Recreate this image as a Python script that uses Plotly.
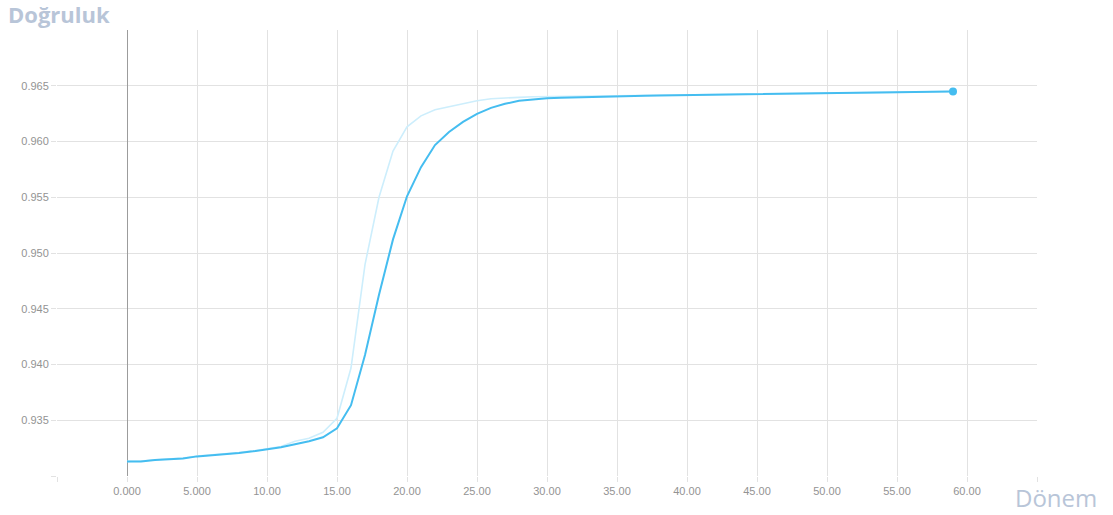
import plotly.graph_objects as go

# epochs 0..59
epochs = list(range(60))

# smoothed accuracy (dark line)
accuracy_smoothed = [
    0.93131, 0.93131, 0.93144, 0.93149, 0.93158, 0.93176, 0.93185, 0.93194, 0.93207, 0.93221,
    0.93239, 0.93257, 0.93284, 0.93311, 0.93347, 0.93428, 0.93635, 0.94086, 0.94626, 0.95122,
    0.95509, 0.95770, 0.95968, 0.96086, 0.96176, 0.96248, 0.96302, 0.96338, 0.96365, 0.96378,
    0.96387, 0.96392, 0.96396, 0.96399, 0.96401, 0.96405, 0.96410, 0.96410, 0.96412, 0.96414,
    0.96415, 0.96417, 0.96419, 0.96421, 0.96423, 0.96424, 0.96425, 0.96426, 0.96428, 0.96430,
    0.96431, 0.96432, 0.96433, 0.96435, 0.96437, 0.96439, 0.96441, 0.96444, 0.96446, 0.96449,
]

# raw accuracy (light line)
accuracy_raw = [
    0.93131, 0.93135, 0.93146, 0.93150, 0.93160, 0.93178, 0.93188, 0.93198, 0.93210, 0.93225,
    0.93245, 0.93264, 0.93311, 0.93338, 0.93392, 0.93518, 0.93968, 0.94896, 0.95500, 0.95914,
    0.96131, 0.96230, 0.96284, 0.96311, 0.96338, 0.96365, 0.96383, 0.96392, 0.96396, 0.96401,
    0.96403, 0.96404, 0.96405, 0.96405, 0.96406, 0.96409, 0.96412, 0.96412, 0.96414, 0.96416,
    0.96417, 0.96419, 0.96421, 0.96423, 0.96425, 0.96426, 0.96427, 0.96428, 0.96430, 0.96432,
    0.96433, 0.96434, 0.96435, 0.96437, 0.96439, 0.96441, 0.96443, 0.96446, 0.96448, 0.96450,
]

x_tickvals = [-5, 0, 5, 10, 15, 20, 25, 30, 35, 40, 45, 50, 55, 60, 65]
x_ticktext = ["", "0.000", "5.000", "10.00", "15.00", "20.00", "25.00", "30.00",
              "35.00", "40.00", "45.00", "50.00", "55.00", "60.00", ""]
y_tickvals = [0.930, 0.935, 0.940, 0.945, 0.950, 0.955, 0.960, 0.965]
y_ticktext = ["", "0.935", "0.940", "0.945", "0.950", "0.955", "0.960", "0.965"]

line_color = "#45bdf0"
raw_color = "#cdeefc"
grid_color = "#e2e2e2"
label_color = "#b8c5d8"

fig = go.Figure()

fig.add_trace(go.Scatter(
    x=epochs, y=accuracy_raw, mode="lines",
    line=dict(color=raw_color, width=1.6),
    hoverinfo="skip",
))

fig.add_trace(go.Scatter(
    x=epochs, y=accuracy_smoothed, mode="lines",
    line=dict(color=line_color, width=2),
))

fig.add_trace(go.Scatter(
    x=[epochs[-1]], y=[accuracy_smoothed[-1]], mode="markers",
    marker=dict(color=line_color, size=8),
))

fig.update_layout(
    width=1113,
    height=515,
    margin=dict(l=57, r=76, t=30, b=39),
    paper_bgcolor="white",
    plot_bgcolor="white",
    showlegend=False,
    font=dict(family="Liberation Sans, Arial, sans-serif", size=11, color="#939393"),
)

fig.update_xaxes(
    range=[-5, 65],
    tickmode="array", tickvals=x_tickvals, ticktext=x_ticktext,
    showgrid=True, gridcolor=grid_color, gridwidth=1,
    zeroline=True, zerolinecolor="#9c9c9c", zerolinewidth=1,
    ticks="outside", ticklen=5, tickcolor=grid_color,
    showline=False,
)

fig.update_yaxes(
    range=[0.930, 0.970],
    tickmode="array", tickvals=y_tickvals, ticktext=y_ticktext,
    showgrid=True, gridcolor=grid_color, gridwidth=1,
    zeroline=False,
    ticks="outside", ticklen=5, tickcolor=grid_color,
    showline=False,
)

fig.add_annotation(
    text="<b>Doğruluk</b>", xref="paper", yref="paper",
    x=-51 / 980, y=1 + 16 / 446, xanchor="left", yanchor="middle",
    showarrow=False,
    font=dict(family="Open Sans, sans-serif", size=22, color=label_color),
)

fig.add_annotation(
    text="Dönem", xref="paper", yref="paper",
    x=1 - 24 / 980, y=-21 / 446, xanchor="left", yanchor="middle",
    showarrow=False,
    font=dict(family="Open Sans, sans-serif", size=24, color=label_color),
)

# drop the default 8px body margin so the figure sits at the window's corner
fig.write_html(
    "out.html",
    config={"displayModeBar": False},
    post_script="document.body.style.margin='0';",
)
